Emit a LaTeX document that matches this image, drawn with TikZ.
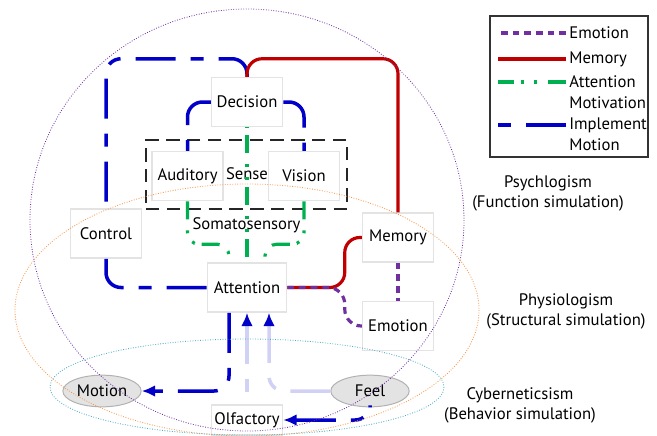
\documentclass[tikz,border=0pt]{standalone}
\usepackage{fontspec}
\setmainfont{PT Sans}
\usepackage{tikz}
\usetikzlibrary{arrows.meta,positioning,calc,shapes.geometric}
\definecolor{IMPLEMENTCOLOR}{RGB}{0,0,200}
\definecolor{MEMORYCOLOR}{RGB}{192,0,0}
\definecolor{ATTENTIONCOLOR}{RGB}{0,176,80}
\definecolor{EMOTIONCOLOR}{RGB}{112,48,160}
\definecolor{PHYSCOLOR}{RGB}{247,150,70}
\definecolor{CYBERCOLOR}{RGB}{75,172,198}
\colorlet{LIGHTCOLOR}{IMPLEMENTCOLOR!18}
\tikzset{
  box-style/.style = {
    rectangle, draw=gray!22, line width=0.9pt, fill=white,
    minimum width=42.6pt,
    minimum height=29.4pt,
    inner sep=1pt
  },
  organ-style/.style = {
    ellipse, draw=gray!60, fill=gray!22, line width=0.6pt,
    minimum width=47pt,
    minimum height=19pt,
    inner sep=0pt
  },
  frame-style/.style = {
    rectangle, draw=black!85, line width=0.9pt,
    dash pattern=on 8pt off 4.5pt,
    minimum width=120.6pt,
    minimum height=41.4pt
  },
  legend-style/.style = {
    rectangle, draw=black!80, line width=0.9pt,
    minimum width=94.8pt,
    minimum height=84.6pt
  },
  legend-text/.style = {anchor=west, inner sep=1.8pt},
  implement-style/.style = {
    draw=IMPLEMENTCOLOR, line width=2.1pt,
    dash pattern=on 24pt off 9pt on 7.8pt off 9pt,
    rounded corners=#1
  },
  implement-style/.default = 9pt,
  light-style/.style = {
    implement-style=#1, draw=LIGHTCOLOR
  },
  light-style/.default = 9pt,
  memory-style/.style = {
    draw=MEMORYCOLOR, line width=1.9pt, rounded corners=#1
  },
  memory-style/.default = 9pt,
  emotion-style/.style = {
    draw=EMOTIONCOLOR, line width=1.9pt,
    dash pattern=on 4pt off 3pt, rounded corners=#1
  },
  emotion-style/.default = 9pt,
  attention-style/.style = {
    draw=ATTENTIONCOLOR, line width=1.9pt,
    dash pattern=on 10.8pt off 6.6pt on 1.8pt off 6pt on 1.8pt off 4.2pt,
    rounded corners=#1
  },
  attention-style/.default = 7pt,
  tip-style/.style = {-{Latex[length=8pt,width=7pt,color=IMPLEMENTCOLOR]}},
  region-style/.style = {draw=#1, line width=0.5pt, densely dotted}
}
\def\createEntry name:#1 display:#2 line:#3 at:#4;{
  \node[legend-text] (#1) at (566,#4) {#2};
  \coordinate (#1-start) at ($(#1.west)+(-68,0)$);
  \draw[#3] (#1.west) -- (#1-start);
}

\begin{document}
\begin{tikzpicture}[x=0.6pt, y=-0.6pt]
  \useasboundingbox (0,0) rectangle (657,435);

  % nodes
  \node[box-style] (decision) at (247,102) {Decision};
  \node[frame-style] (senseframe) at (246.5,174.5) {};
  \node[box-style] (auditory) at (187.5,176) {Auditory};
  \node[box-style] (vision) at (304,176) {Vision};
  \node[inner sep=1pt] (sense) at (247,174) {Sense};
  \node[below=1pt of senseframe] (somato) {Somatosensory};
  \node[box-style] (control) at (106,233.5) {Control};
  \node[box-style] (memory) at (398,237.5) {Memory};
  \node[box-style, minimum width=47.4pt] (attention) at (247,287.5) {Attention};
  \node[box-style] (emotion) at (398,326) {Emotion};
  \node[organ-style] (motion) at (102,391) {Motion};
  \node[organ-style] (feel) at (370,391) {Feel};
  \node[box-style, minimum height=18pt] (olfactory) at (247,420) {Olfactory};

  % implement
  \draw[implement-style] (decision.north) -- ++(0,-18) -| (control.north);
  \draw[implement-style] (decision.west) -| (auditory.north);
  \draw[implement-style] (decision.east) -| (vision.north);
  \draw[implement-style] (control.south) |- (attention.west);
  \draw[implement-style, tip-style] ($(attention.south)+(-18,0)$) |- (motion.east);
  \draw[implement-style, dash phase=22.8pt, tip-style] (feel.south) |- (olfactory.east);
  \draw[light-style, dash phase=25.8pt, tip-style] (olfactory.north) -- (attention.south);
  \draw[light-style, tip-style] (feel.west) -| ($(attention.south)+(22,0)$);

  % memory
  \draw[memory-style] (decision.north) -- ++(0,-18) -| (memory.north);
  \draw[memory-style] (memory.west) -- ++(-17,0) |- (attention.east);

  % emotion
  \draw[emotion-style] (memory.south) -- (emotion.north);
  \draw[emotion-style=10pt] (attention.east) -| ($(emotion.west)+(-17,0)$) -- (emotion.west);

  % attention
  \draw[attention-style, dash phase=26.4pt] (decision.south) -- (attention.north);
  \draw[attention-style] (auditory.south) -- ++(0,43) -| ($(attention.north)+(-18,0)$);
  \draw[attention-style] (vision.south) -- ++(0,43) -| ($(attention.north)+(18,0)$);

  % regions
  \draw[region-style=EMOTIONCOLOR] (247,220) ellipse [x radius=217, y radius=211];
  \draw[region-style=PHYSCOLOR] (247,310) ellipse [x radius=232, y radius=126];
  \draw[region-style=CYBERCOLOR] (247,387) ellipse [x radius=197, y radius=48];

  \node[align=center] (psych) at (548,193) {Psychlogism\\(Function simulation)};
  \node[align=center] (phys) at (566,311) {Physiologism\\(Structural simulation)};
  \node[align=center] (cyber) at (520,405) {Cyberneticsism\\(Behavior simulation)};

  % legend
  \node[legend-style] (legend) at (569,86.5) {};
  \createEntry name:lgemotion display:{Emotion} line:emotion-style at:33;
  \createEntry name:lgmemory display:{Memory} line:memory-style at:59;
  \createEntry name:lgattention display:{Attention} line:attention-style at:82;
  \node[legend-text] (lgmotivation) at (566,103) {Motivation};
  \createEntry name:lgimplement display:{Implement} line:implement-style at:125;
  \node[legend-text] (lgmotion) at (566,145) {Motion};
\end{tikzpicture}
\end{document}
